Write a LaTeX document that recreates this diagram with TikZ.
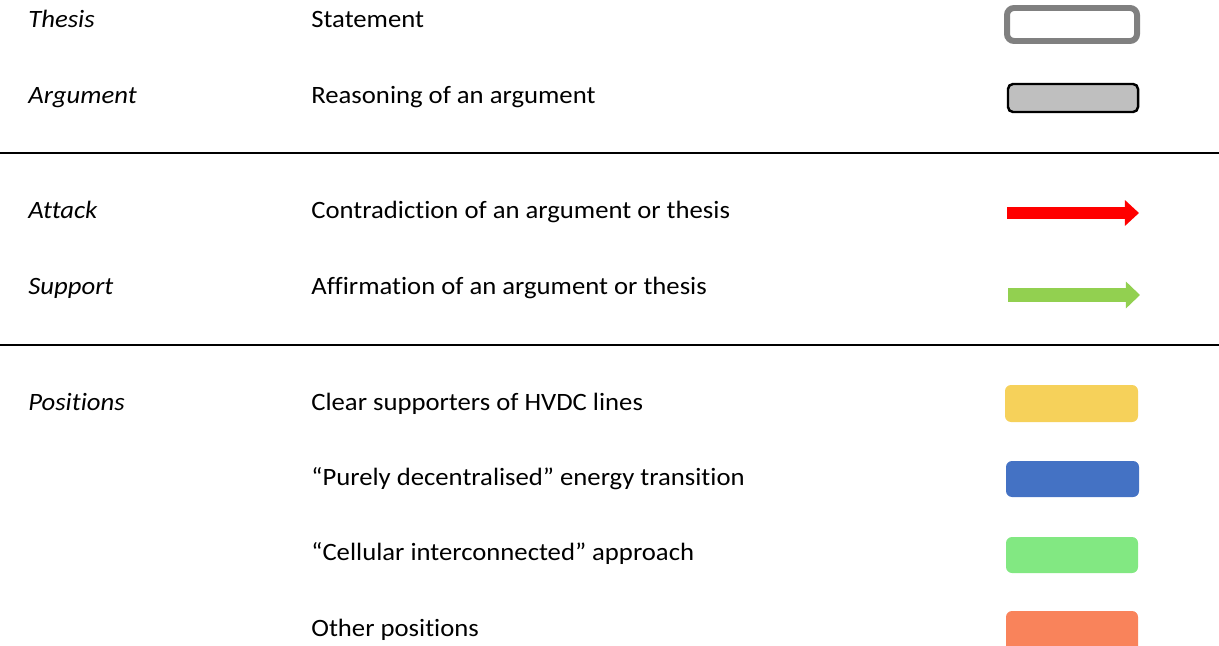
\documentclass[tikz,border=0pt]{standalone}
\usepackage{fontspec}
\setmainfont{Carlito}[FakeStretch=1.07,Ligatures={NoCommon,TeX}]
\usetikzlibrary{arrows.meta}
\definecolor{thesisgray}{HTML}{808080}
\definecolor{arggray}{HTML}{BFBFBF}
\definecolor{suppgreen}{HTML}{92D050}
\definecolor{posyellow}{HTML}{F6D15A}
\definecolor{posblue}{HTML}{4472C4}
\definecolor{posgreen}{HTML}{82E882}
\definecolor{posorange}{HTML}{F9835B}
\begin{document}
\begin{tikzpicture}[line cap=butt,line join=miter,x=0.02cm,y=-0.02cm,
  term/.style={anchor=base west,inner sep=0pt,font=\fontsize{14.2}{17}\selectfont\itshape},
  expl/.style={anchor=base west,inner sep=0pt,font=\fontsize{14.2}{17}\selectfont},
  posbox/.style={rounded corners=0.12cm}]
\useasboundingbox (0,0) rectangle (1219,645);
\clip (0,0) rectangle (1219,645);
% terms
\node[term] (thesis) at (28,28) {Thesis};
\node[term] (argument) at (28,104) {Argument};
\node[term] (attack) at (28,218) {Attack};
\node[term] (support) at (28,294) {Support};
\node[term] (positions) at (28,410) {Positions};
% explanations
\node[expl] (statement) at (311,28) {Statement};
\node[expl] (reasoning) at (311,104) {Reasoning of an argument};
\node[expl] (contra) at (311,218) {Contradiction of an argument or thesis};
\node[expl] (affirm) at (311,294) {Affirmation of an argument or thesis};
\node[expl] (clear) at (311,410) {Clear supporters of HVDC lines};
\node[expl] (decentral) at (311,485) {“Purely decentralised” energy transition};
\node[expl] (cellular) at (311,560) {“Cellular interconnected” approach};
\node[expl] (other) at (311,636) {Other positions};
% separators
\coordinate (ruleAl) at (0,153);
\coordinate (ruleAr) at (1219,153);
\coordinate (ruleBl) at (0,345);
\coordinate (ruleBr) at (1219,345);
\draw [line width=1.14pt] (ruleAl)-- (ruleAr);
\draw [line width=1.14pt] (ruleBl)-- (ruleBr);
% symbols
\draw [line width=3.4pt,color=thesisgray,fill=white,rounded corners=0.14cm] (1007,8) rectangle (1137,41);
\draw [line width=1.4pt,color=black,fill=arggray,rounded corners=0.1cm] (1008,84) rectangle (1138,112);
\coordinate (attackS) at (1007,213);
\coordinate (attackE) at (1139,213);
\coordinate (supportS) at (1008,295);
\coordinate (supportE) at (1140,295);
\draw [line width=6.8pt,color=red,-{Triangle[length=8pt,width=14.2pt]}] (attackS)-- (attackE);
\draw [line width=8pt,color=suppgreen,-{Triangle[length=8pt,width=14.8pt]}] (supportS)-- (supportE);
\fill [posbox,color=posyellow] (1005,385) rectangle (1138,422);
\fill [posbox,color=posblue] (1006,461) rectangle (1139,497);
\fill [posbox,color=posgreen] (1006,537) rectangle (1138,573);
\fill [posbox,color=posorange] (1006,611) rectangle (1138,652);
\end{tikzpicture}
\end{document}
